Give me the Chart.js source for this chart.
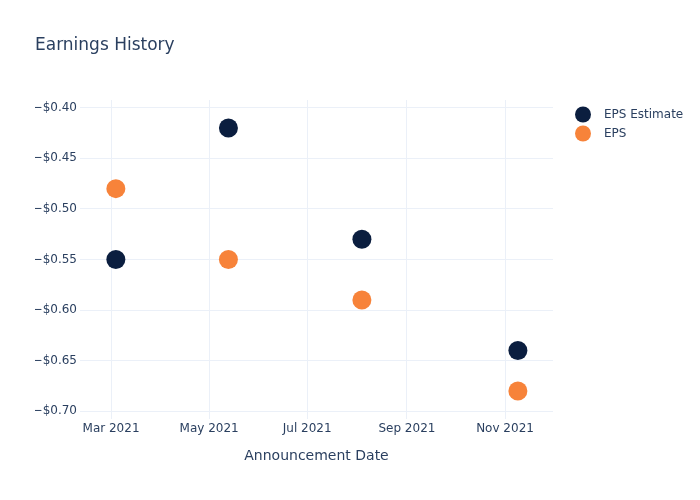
<!DOCTYPE html>
<html>
<head>
<meta charset="utf-8">
<script src="https://cdn.jsdelivr.net/npm/chart.js@4.4.1/dist/chart.umd.min.js"></script>
<style>
  html, body { margin: 0; padding: 0; background: #ffffff; }
  #wrap { width: 700px; height: 500px; position: relative; }
</style>
</head>
<body>
<div id="wrap"><canvas id="c" width="700" height="500"></canvas></div>
<script>
// ---- data ----
const announcementDates = ['2021-03-04', '2021-05-13', '2021-08-04', '2021-11-09'];
const epsEstimate = [-0.55, -0.42, -0.53, -0.64];
const epsActual = [-0.48, -0.55, -0.59, -0.68];
const seriesLabels = ['EPS Estimate', 'EPS'];
const xTickDates = ['2021-03-01', '2021-05-01', '2021-07-01', '2021-09-01', '2021-11-01'];
const xTickLabels = ['Mar 2021', 'May 2021', 'Jul 2021', 'Sep 2021', 'Nov 2021'];
const yTickValues = [-0.70, -0.65, -0.60, -0.55, -0.50, -0.45, -0.40];
const xRange = ['2021-02-09T17:00', '2021-11-30T20:00'];
const yRange = [-0.7076, -0.3924];

const toMs = s => Date.parse(s.length === 10 ? s + 'T00:00:00Z' : s + ':00Z');

const textColor = '#2a3f5f';
const gridColor = '#ebf0f8';
const colors = ['#0b1e3f', '#f7833a'];
const FONT = "'DejaVu Sans', sans-serif";

const mkPoints = vals => vals.map((v, i) => ({ x: toMs(announcementDates[i]), y: v }));

const legendPlugin = {
  id: 'plotlyLegend',
  afterDraw(chart) {
    const ctx = chart.ctx;
    ctx.save();
    chart.data.datasets.forEach((ds, i) => {
      const y = 114.5 + i * 19;
      ctx.beginPath();
      ctx.arc(583, y, 8, 0, Math.PI * 2);
      ctx.fillStyle = ds.backgroundColor;
      ctx.fill();
      ctx.fillStyle = textColor;
      ctx.font = '12px ' + FONT;
      ctx.textBaseline = 'middle';
      ctx.textAlign = 'left';
      ctx.fillText(ds.label, 604, y + 0.5);
    });
    ctx.restore();
  }
};

new Chart(document.getElementById('c'), {
  type: 'scatter',
  data: {
    datasets: [
      { label: seriesLabels[0], data: mkPoints(epsEstimate), backgroundColor: colors[0], borderColor: colors[0], pointRadius: 9.5, pointHoverRadius: 9.5, borderWidth: 0 },
      { label: seriesLabels[1], data: mkPoints(epsActual), backgroundColor: colors[1], borderColor: colors[1], pointRadius: 9.5, pointHoverRadius: 9.5, borderWidth: 0 }
    ]
  },
  options: {
    responsive: false,
    animation: false,
    events: [],
    layout: { padding: { left: 35, right: 147, top: 0, bottom: 0 } },
    plugins: {
      legend: { display: false },
      tooltip: { enabled: false },
      title: {
        display: true,
        text: 'Earnings History',
        align: 'start',
        color: textColor,
        font: { family: FONT, size: 17, weight: 'normal' },
        padding: { top: 35, bottom: 44.6 }
      }
    },
    scales: {
      x: {
        type: 'linear',
        min: toMs(xRange[0]),
        max: toMs(xRange[1]),
        afterBuildTicks: s => { s.ticks = xTickDates.map(d => ({ value: toMs(d) })); },
        afterFit: s => { s.height = 81; },
        ticks: {
          color: textColor,
          font: { family: FONT, size: 12 },
          padding: 3,
          maxRotation: 0,
          autoSkip: false,
          callback: (v, i) => xTickLabels[i]
        },
        grid: { color: gridColor, drawTicks: false, lineWidth: 1 },
        border: { display: false },
        title: {
          display: true,
          text: 'Announcement Date',
          color: textColor,
          font: { family: FONT, size: 14 },
          padding: { top: 0, bottom: 35.6 }
        }
      },
      y: {
        type: 'linear',
        min: yRange[0],
        max: yRange[1],
        afterBuildTicks: s => { s.ticks = yTickValues.map(v => ({ value: v })); },
        afterFit: s => { s.width = 45; },
        ticks: {
          color: textColor,
          font: { family: FONT, size: 12 },
          padding: 3,
          autoSkip: false,
          callback: v => (v < 0 ? '\u2212' : '') + '$' + Math.abs(v).toFixed(2)
        },
        grid: { color: gridColor, drawTicks: false, lineWidth: 1 },
        border: { display: false }
      }
    }
  },
  plugins: [legendPlugin]
});
</script>
</body>
</html>
